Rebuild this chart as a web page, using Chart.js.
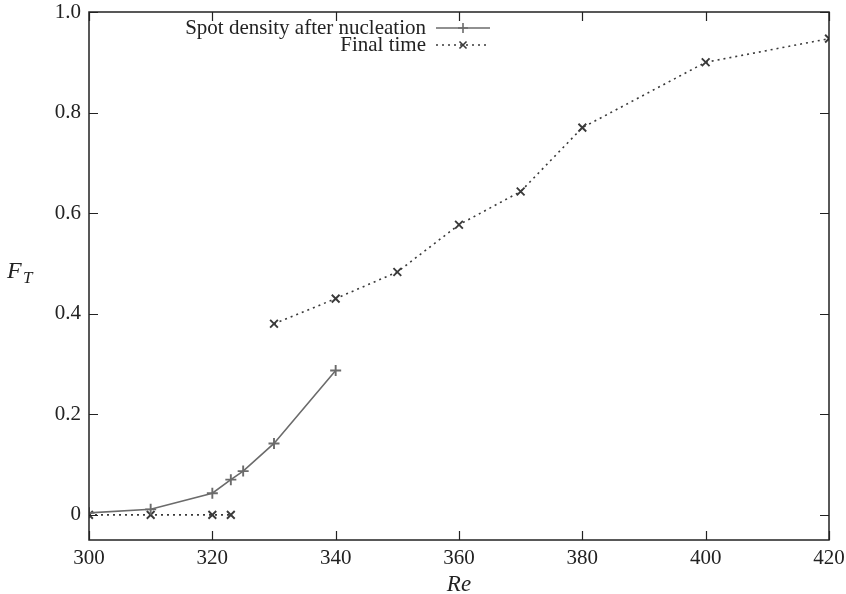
<!DOCTYPE html>
<html>
<head>
<meta charset="utf-8">
<script src="https://cdn.jsdelivr.net/npm/chart.js@4/dist/chart.umd.min.js"></script>
<style>
  html, body { margin: 0; padding: 0; background: #fff; }
  #wrap { width: 846px; height: 594px; }
</style>
</head>
<body>
<div id="wrap"><canvas id="c" width="846" height="594"></canvas></div>
<script>
// Re values and F_T readings
const spotRe = [300, 310, 320, 323, 325, 330, 340];
const spotFT = [0.004, 0.011, 0.043, 0.070, 0.087, 0.142, 0.287];

// final time comes in two unconnected pieces
const finalLowRe = [300, 310, 320, 323];
const finalLowFT = [0, 0, 0, 0];
const finalHighRe = [330, 340, 350, 360, 370, 380, 400, 420];
const finalHighFT = [0.380, 0.430, 0.483, 0.577, 0.643, 0.770, 0.900, 0.947];

const xTicks = [300, 320, 340, 360, 380, 400, 420];
const yTicks = [0, 0.2, 0.4, 0.6, 0.8, 1.0];

const SERIF = "'Liberation Serif', 'DejaVu Serif', serif";
const SPOT_COLOR = '#6b6b6b';
const FINAL_COLOR = '#3a3a3a';
const TICK_LEN = 9;

const toPoints = (xs, ys) => xs.map((x, i) => ({ x, y: ys[i] }));

// box + inward ticks on all four sides (gnuplot style), F_T label and legend
const framePlugin = {
  id: 'frame',
  afterDatasetsDraw(chart) {
    const { ctx, chartArea: a, scales } = chart;
    ctx.save();
    ctx.strokeStyle = '#222';
    ctx.lineWidth = 1.5;
    ctx.strokeRect(a.left, a.top, a.right - a.left, a.bottom - a.top);

    ctx.lineWidth = 1.2;
    ctx.beginPath();
    xTicks.forEach(v => {
      const px = Math.round(scales.x.getPixelForValue(v)) + 0.5;
      ctx.moveTo(px, a.bottom); ctx.lineTo(px, a.bottom - TICK_LEN);
      ctx.moveTo(px, a.top); ctx.lineTo(px, a.top + TICK_LEN);
    });
    yTicks.forEach(v => {
      const py = Math.round(scales.y.getPixelForValue(v)) + 0.5;
      ctx.moveTo(a.left, py); ctx.lineTo(a.left + TICK_LEN, py);
      ctx.moveTo(a.right, py); ctx.lineTo(a.right - TICK_LEN, py);
    });
    ctx.stroke();

    // y axis title F_T
    ctx.fillStyle = '#222';
    ctx.textBaseline = 'alphabetic';
    ctx.textAlign = 'left';
    ctx.font = 'italic 24px ' + SERIF;
    ctx.fillText('F', 7, 278);
    ctx.font = 'italic 17px ' + SERIF;
    ctx.fillText('T', 23, 283);

    // legend: text right-aligned, sample on the right
    const rows = [
      { label: 'Spot density after nucleation', color: SPOT_COLOR, dash: [], style: 'cross', y: 28 },
      { label: 'Final time', color: FINAL_COLOR, dash: [2, 4], style: 'crossRot', y: 45 },
    ];
    rows.forEach(r => {
      ctx.font = '21px ' + SERIF;
      ctx.fillStyle = '#222';
      ctx.textAlign = 'right';
      ctx.textBaseline = 'middle';
      ctx.fillText(r.label, 426, r.y);
      ctx.strokeStyle = r.color;
      ctx.lineWidth = 1.6;
      ctx.setLineDash(r.dash);
      ctx.beginPath();
      ctx.moveTo(436, r.y); ctx.lineTo(490, r.y);
      ctx.stroke();
      ctx.setLineDash([]);
      Chart.helpers.drawPoint(ctx, { pointStyle: r.style, radius: 5, borderWidth: 1.8 }, 463, r.y);
    });
    ctx.restore();
  }
};

const finalStyle = {
  showLine: true,
  borderColor: FINAL_COLOR,
  borderWidth: 1.6,
  borderDash: [2, 4],
  pointStyle: 'crossRot',
  pointRadius: 5.5,
  pointBorderWidth: 1.9,
  pointBorderColor: FINAL_COLOR,
  tension: 0,
};

new Chart(document.getElementById('c'), {
  type: 'scatter',
  data: {
    datasets: [
      {
        label: 'Spot density after nucleation',
        data: toPoints(spotRe, spotFT),
        showLine: true,
        borderColor: SPOT_COLOR,
        borderWidth: 1.6,
        pointStyle: 'cross',
        pointRadius: 5.5,
        pointBorderWidth: 1.9,
        pointBorderColor: SPOT_COLOR,
        tension: 0,
      },
      { label: 'Final time', data: toPoints(finalLowRe, finalLowFT), ...finalStyle },
      { label: 'Final time', data: toPoints(finalHighRe, finalHighFT), ...finalStyle },
    ],
  },
  options: {
    responsive: false,
    animation: false,
    layout: { padding: { left: 0, right: 17, top: 12, bottom: 0 } },
    plugins: {
      legend: { display: false },
      tooltip: { enabled: false },
    },
    scales: {
      x: {
        type: 'linear',
        min: 300,
        max: 420,
        afterBuildTicks: s => { s.ticks = xTicks.map(v => ({ value: v })); },
        afterFit: s => { s.height = 54; s.paddingLeft = 0; s.paddingRight = 0; },
        grid: { display: false, drawTicks: false },
        border: { display: false },
        ticks: {
          color: '#222',
          padding: 6,
          maxRotation: 0,
          font: { family: SERIF, size: 21 },
          callback: v => String(v),
        },
        title: {
          display: true,
          text: 'Re',
          color: '#222',
          padding: { top: 0, bottom: 0 },
          font: { family: SERIF, size: 23, style: 'italic', lineHeight: 0.8 },
        },
      },
      y: {
        type: 'linear',
        min: -0.05,
        max: 1.0,
        afterBuildTicks: s => { s.ticks = yTicks.map(v => ({ value: v })); },
        afterFit: s => { s.width = 89; s.paddingTop = 0; s.paddingBottom = 0; },
        grid: { display: false, drawTicks: false },
        border: { display: false },
        ticks: {
          color: '#222',
          padding: 8,
          font: { family: SERIF, size: 21 },
          callback: v => (v === 0 ? '0' : v.toFixed(1)),
        },
      },
    },
  },
  plugins: [framePlugin],
});
</script>
</body>
</html>
